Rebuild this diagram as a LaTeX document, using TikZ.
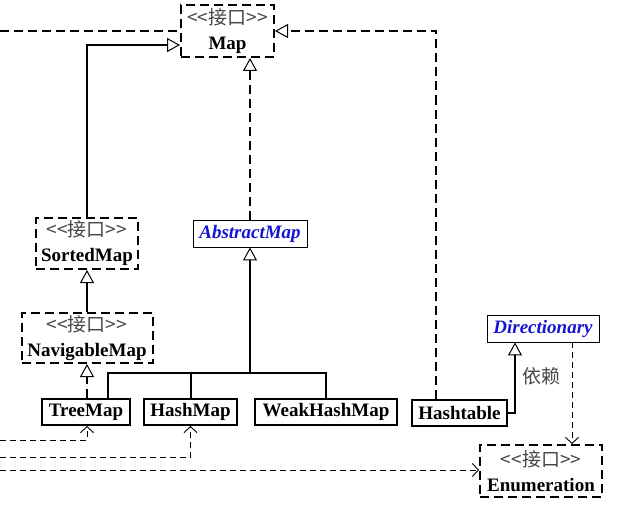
\documentclass[tikz,border=0pt]{standalone}
\usepackage{fontspec}
\setmainfont{Liberation Serif}
\newfontfamily\cjk{Noto Sans CJK SC}
\usetikzlibrary{arrows.meta}
\definecolor{absblue}{RGB}{20,20,210}
\definecolor{stereo}{RGB}{70,70,70}
\newcommand\umlsize{\fontsize{19}{25}\selectfont}
\newcommand\stereotype{{\color{stereo}\mdseries\cjk <<接口>>}}

\begin{document}
\begin{tikzpicture}[x=1pt, y=-1pt,
    iface/.style={draw, line width=2pt, dash pattern=on 9pt off 5pt, align=center,
      font=\umlsize\bfseries, inner sep=0pt},
    cls/.style={draw, line width=2pt, font=\umlsize\bfseries, minimum height=26pt, inner sep=0pt},
    abscls/.style={draw, line width=0.9pt, font=\umlsize\bfseries\itshape, text=absblue,
      minimum height=27pt, inner sep=0pt},
    gen/.style={line width=2pt, -{Triangle[open, length=13pt, width=14pt, line width=1pt]}},
    realize/.style={gen, dash pattern=on 9pt off 5pt},
    dep/.style={line width=0.9pt, dash pattern=on 6pt off 4pt,
      -{Straight Barb[length=6pt, width=13pt, line width=0.9pt]}},
    free/.style={line width=2pt, dash pattern=on 9pt off 5pt}]
  \useasboundingbox (0,0) rectangle (619,511);
  % interfaces
  \node[iface, minimum width=93pt, minimum height=52pt] (Map) at (227.5,31) {\stereotype\\Map};
  \node[iface, minimum width=102pt, minimum height=51pt] (SortedMap) at (87,243.5) {\stereotype\\SortedMap};
  \node[iface, minimum width=131pt, minimum height=50pt] (NavigableMap) at (87,338) {\stereotype\\NavigableMap};
  \node[iface, minimum width=122pt, minimum height=52pt] (Enumeration) at (541,471) {\stereotype\\Enumeration};
  % abstract classes
  \node[abscls, minimum width=114pt] (AbstractMap) at (250,233.5) {AbstractMap};
  \node[abscls, minimum width=112pt] (Directionary) at (543,328.5) {Directionary};
  % classes
  \node[cls, minimum width=88pt] (TreeMap) at (86,412) {TreeMap};
  \node[cls, minimum width=93pt] (HashMap) at (190.5,412) {HashMap};
  \node[cls, minimum width=142pt] (WeakHashMap) at (326,412) {WeakHashMap};
  \node[cls, minimum width=95pt] (Hashtable) at (459.5,412.5) {Hashtable};

  % free ends on the left
  \coordinate (mapin) at (0,31);
  \coordinate (treein) at (0,440);
  \coordinate (hashin) at (0,457);
  \coordinate (enumin) at (0,470);
  \coordinate (bar) at (250,373);

  \draw[free] (mapin) -- (Map.west);
  \draw[gen] (SortedMap.north) |- ([yshift=-14pt]Map.west);
  \draw[realize] (AbstractMap.north) -- (AbstractMap.north |- Map.south);
  \draw[realize] ([xshift=-23.5pt]Hashtable.north) |- (Map.east);
  \draw[gen] (NavigableMap.north) -- (SortedMap.south);
  \draw[realize] (TreeMap.north -| NavigableMap.south) -- (NavigableMap.south);

  \draw[line width=2pt] ([xshift=22pt]TreeMap.north) |- (WeakHashMap.north |- bar) -- (WeakHashMap.north);
  \draw[line width=2pt] (HashMap.north) -- (HashMap.north |- bar);
  \draw[gen] (bar) -- (AbstractMap.south);

  \draw[gen] (Hashtable.east) -| ([xshift=-28pt]Directionary.south)
    node[pos=0.76, right=3pt, font=\umlsize\cjk, text=stereo] (dependlabel) {依赖};
  \draw[dep] ([xshift=29pt]Directionary.south) -- ([xshift=29pt]Directionary.south |- Enumeration.north);

  \draw[dep] (treein) -| (TreeMap.south -| NavigableMap.south);
  \draw[dep] (hashin) -| (HashMap.south);
  \draw[dep] (enumin) -- (enumin -| Enumeration.west);
\end{tikzpicture}
\end{document}
